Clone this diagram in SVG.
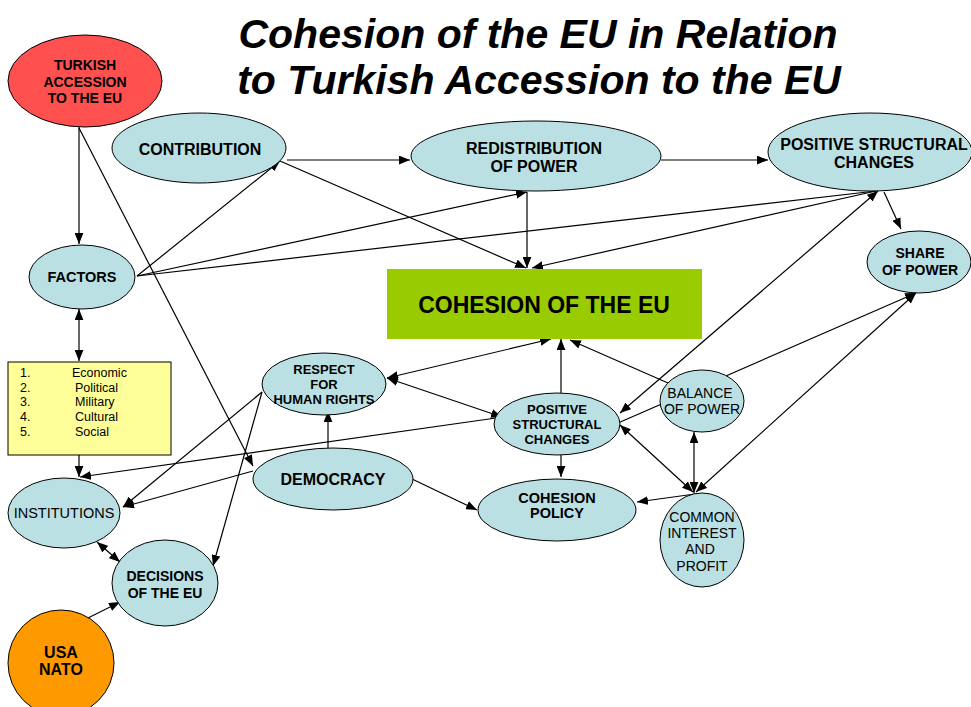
<svg xmlns="http://www.w3.org/2000/svg" width="971" height="707" viewBox="0 0 971 707">
  <style>
    .node { fill: #BAE0E4; stroke: #000; stroke-width: 1; }
    .t { font-family: "Liberation Sans", Arial, sans-serif; font-weight: bold; text-anchor: middle; fill: #000; }
    .n { font-family: "Liberation Sans", Arial, sans-serif; text-anchor: middle; fill: #000; }
    .title { font-family: "Liberation Sans", Arial, sans-serif; font-weight: bold; font-style: italic; font-size: 41px; text-anchor: middle; fill: #000; }
    .c line { stroke: #000; stroke-width: 1.2; fill: none; }
  </style>
  <defs>
    <marker id="ah" markerUnits="userSpaceOnUse" markerWidth="11" markerHeight="9" refX="10" refY="4" orient="auto-start-reverse" viewBox="0 0 10 8">
      <path d="M0,0 L10,4 L0,8 z" fill="#000"/>
    </marker>
  </defs>

  <rect width="971" height="707" fill="#fff"/>

  <g id="title">
    <text class="title" x="538" y="48">Cohesion of the EU in Relation</text>
    <text class="title" x="539" y="94">to Turkish Accession to the EU</text>
  </g>

  <!-- connectors -->
  <g id="connectors" class="c">
    <line x1="79" y1="127" x2="79" y2="244" marker-end="url(#ah)"/>
    <line x1="79" y1="128" x2="253" y2="466" marker-end="url(#ah)"/>
    <line x1="137" y1="276" x2="280" y2="161" marker-end="url(#ah)"/>
    <line x1="137" y1="276" x2="527" y2="192" marker-end="url(#ah)"/>
    <line x1="137" y1="276" x2="876" y2="191"/>
    <line x1="287" y1="160" x2="410" y2="160" marker-end="url(#ah)"/>
    <line x1="280" y1="161" x2="526" y2="268" marker-end="url(#ah)"/>
    <line x1="661" y1="160" x2="768" y2="160" marker-end="url(#ah)"/>
    <line x1="527" y1="192" x2="527" y2="268" marker-end="url(#ah)"/>
    <line x1="876" y1="191" x2="532" y2="268" marker-end="url(#ah)"/>
    <line x1="884" y1="192" x2="901" y2="229" marker-end="url(#ah)"/>
    <line x1="620" y1="413" x2="878" y2="191" marker-start="url(#ah)" marker-end="url(#ah)"/>
    <line x1="618" y1="423" x2="916" y2="293" marker-end="url(#ah)"/>
    <line x1="696" y1="492" x2="916" y2="293" marker-start="url(#ah)" marker-end="url(#ah)"/>
    <line x1="668" y1="383" x2="570" y2="340" marker-end="url(#ah)"/>
    <line x1="561" y1="393" x2="561" y2="339" marker-end="url(#ah)"/>
    <line x1="387" y1="378" x2="551" y2="339" marker-start="url(#ah)" marker-end="url(#ah)"/>
    <line x1="387" y1="378" x2="502" y2="417" marker-start="url(#ah)" marker-end="url(#ah)"/>
    <line x1="328" y1="448" x2="328" y2="411" marker-end="url(#ah)"/>
    <line x1="412" y1="479" x2="477" y2="510" marker-end="url(#ah)"/>
    <line x1="561" y1="455" x2="561" y2="477" marker-end="url(#ah)"/>
    <line x1="695" y1="494" x2="637" y2="502" marker-end="url(#ah)"/>
    <line x1="694" y1="493" x2="694" y2="432" marker-start="url(#ah)" marker-end="url(#ah)"/>
    <line x1="620" y1="425" x2="693" y2="492" marker-start="url(#ah)" marker-end="url(#ah)"/>
    <line x1="496" y1="418" x2="80" y2="477" marker-end="url(#ah)"/>
    <line x1="79" y1="455" x2="79" y2="477" marker-end="url(#ah)"/>
    <line x1="79" y1="309" x2="79" y2="361" marker-start="url(#ah)" marker-end="url(#ah)"/>
    <line x1="253" y1="471" x2="123" y2="507" marker-end="url(#ah)"/>
    <line x1="262" y1="392" x2="123" y2="507" marker-end="url(#ah)"/>
    <line x1="262" y1="392" x2="213" y2="566" marker-end="url(#ah)"/>
    <line x1="97" y1="542" x2="120" y2="562" marker-start="url(#ah)" marker-end="url(#ah)"/>
    <line x1="88" y1="618" x2="120" y2="602" marker-end="url(#ah)"/>
  </g>

  <g id="turkish-accession">
    <ellipse cx="85" cy="81" rx="77" ry="46" fill="#FF5050" stroke="#000"/>
    <text class="t" font-size="14" x="85" y="70">TURKISH</text>
    <text class="t" font-size="14" x="85" y="87">ACCESSION</text>
    <text class="t" font-size="14" x="85" y="103">TO THE EU</text>
  </g>

  <g id="contribution">
    <ellipse class="node" cx="199" cy="148" rx="87" ry="35"/>
    <text class="t" font-size="16" x="200" y="155">CONTRIBUTION</text>
  </g>

  <g id="redistribution">
    <ellipse class="node" cx="536" cy="156" rx="125" ry="35"/>
    <text class="t" font-size="16" x="534" y="154">REDISTRIBUTION</text>
    <text class="t" font-size="16" x="534" y="172">OF POWER</text>
  </g>

  <g id="positive-structural-top">
    <ellipse class="node" cx="870" cy="152" rx="102" ry="39"/>
    <text class="t" font-size="16" x="874" y="150">POSITIVE STRUCTURAL</text>
    <text class="t" font-size="16" x="874" y="168">CHANGES</text>
  </g>

  <g id="share-of-power">
    <ellipse class="node" cx="919" cy="262" rx="52" ry="31"/>
    <text class="t" font-size="14" x="920" y="258">SHARE</text>
    <text class="t" font-size="14" x="920" y="275">OF POWER</text>
  </g>

  <g id="factors">
    <ellipse class="node" cx="82" cy="277" rx="53" ry="32"/>
    <text class="t" font-size="14.5" x="82" y="282">FACTORS</text>
  </g>

  <g id="factor-list">
    <rect x="8" y="362" width="163" height="93" fill="#FFFF99" stroke="#000"/>
    <g class="n" font-size="12.5" style="text-anchor:start">
      <text x="20" y="377">1.</text><text x="72" y="377">Economic</text>
      <text x="20" y="392">2.</text><text x="75" y="392">Political</text>
      <text x="20" y="406">3.</text><text x="75" y="406">Military</text>
      <text x="20" y="421">4.</text><text x="75" y="421">Cultural</text>
      <text x="20" y="436">5.</text><text x="75" y="436">Social</text>
    </g>
  </g>

  <g id="cohesion-eu">
    <rect x="387" y="269" width="315" height="70" fill="#99CC00"/>
    <text class="t" font-size="23" x="544" y="313">COHESION OF THE EU</text>
  </g>

  <g id="human-rights">
    <ellipse class="node" cx="324" cy="384" rx="62" ry="31"/>
    <text class="t" font-size="13" x="324" y="374">RESPECT</text>
    <text class="t" font-size="13" x="324" y="389">FOR</text>
    <text class="t" font-size="13" x="324" y="404">HUMAN RIGHTS</text>
  </g>

  <g id="democracy">
    <ellipse class="node" cx="333" cy="479" rx="80" ry="31"/>
    <text class="t" font-size="16" x="333" y="485">DEMOCRACY</text>
  </g>

  <g id="positive-structural-mid">
    <ellipse class="node" cx="557" cy="424" rx="63" ry="31"/>
    <text class="t" font-size="13" x="557" y="414">POSITIVE</text>
    <text class="t" font-size="13" x="557" y="429">STRUCTURAL</text>
    <text class="t" font-size="13" x="557" y="444">CHANGES</text>
  </g>

  <g id="cohesion-policy">
    <ellipse class="node" cx="557" cy="510" rx="79" ry="31"/>
    <text class="t" font-size="14.5" x="557" y="503">COHESION</text>
    <text class="t" font-size="14.5" x="557" y="518">POLICY</text>
  </g>

  <g id="balance-of-power">
    <ellipse class="node" cx="702" cy="401" rx="42" ry="31"/>
    <text class="n" font-size="14" x="700" y="398">BALANCE</text>
    <text class="n" font-size="14" x="702" y="414">OF POWER</text>
  </g>

  <g id="common-interest">
    <ellipse class="node" cx="702" cy="540" rx="42" ry="47"/>
    <text class="n" font-size="14" x="702" y="522">COMMON</text>
    <text class="n" font-size="14" x="702" y="538">INTEREST</text>
    <text class="n" font-size="14" x="700" y="554">AND</text>
    <text class="n" font-size="14" x="702" y="571">PROFIT</text>
  </g>

  <g id="institutions">
    <ellipse class="node" cx="64" cy="513" rx="56" ry="35"/>
    <text class="n" font-size="14.5" x="64" y="518">INSTITUTIONS</text>
  </g>

  <g id="decisions">
    <ellipse class="node" cx="165" cy="583" rx="53" ry="43"/>
    <text class="t" font-size="14" x="165" y="581">DECISIONS</text>
    <text class="t" font-size="14" x="165" y="598">OF THE EU</text>
  </g>

  <g id="usa-nato">
    <ellipse cx="61" cy="663" rx="53" ry="53" fill="#FF9900" stroke="#000"/>
    <text class="t" font-size="16" x="61" y="658">USA</text>
    <text class="t" font-size="16" x="61" y="675">NATO</text>
  </g>
</svg>
